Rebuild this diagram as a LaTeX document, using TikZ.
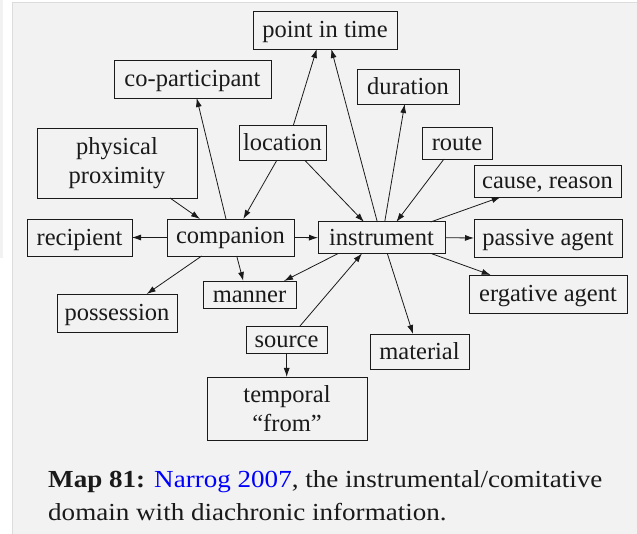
\documentclass[tikz,border=0pt]{standalone}
\usepackage{fontspec}
\setmainfont{Liberation Serif}
\newfontfamily\capfont[FakeStretch=1.105]{Liberation Serif}
\usetikzlibrary{arrows.meta}
\definecolor{panel}{HTML}{F2F2F2}
\definecolor{panelline}{HTML}{DCDCDC}
\definecolor{linkblue}{HTML}{0000FF}
\definecolor{ink}{HTML}{1A1A1A}
\begin{document}
\begin{tikzpicture}[x=1pt,y=-1pt,
  bx/.style={draw=ink, line width=0.9pt, inner sep=0pt, outer sep=0pt,
    text height=18pt, text depth=2pt, text=ink,
    font=\fontsize{24.5}{28.5}\selectfont},
  bxm/.style={draw=ink, line width=0.9pt, inner sep=0pt, outer sep=0pt,
    align=center, text=ink, font=\fontsize{24.5}{28.5}\selectfont},
  lk/.style={draw=ink, line width=0.8pt, -{Latex[length=9pt,width=6pt]}},
  captxt/.style={anchor=base west, inner sep=0pt, text=ink,
    font=\capfont\fontsize{24.5}{33}\selectfont}]
\useasboundingbox (0,0) rectangle (637,534);
\fill[white] (0,0) rectangle (637,534);
\fill[panel] (0,0) rectangle (2.5,258);
\fill[panel] (12,2.5) rectangle (637,534);
\draw[panelline, line width=0.8pt] (12,534) -- (12,2.5) -- (637,2.5);
% nodes
\node[bx, minimum width=144pt, minimum height=38pt] (pit) at (325,30) {point in time};
\node[bx, minimum width=157pt, minimum height=38pt] (cop) at (192.5,79) {co-participant};
\node[bxm, minimum width=160pt, minimum height=70pt] (phys) at (117,163) {physical\\proximity};
\node[bx, minimum width=87pt, minimum height=35pt] (loc) at (282.5,143) {location};
\node[bx, minimum width=105pt, minimum height=37pt] (rec) at (79.5,237.5) {recipient};
\node[bx, text height=17pt, text depth=5pt, minimum width=127pt, minimum height=37pt] (comp) at (230.5,237.5) {companion};
\node[bx, minimum width=127pt, minimum height=31.5pt] (inst) at (381.5,237.7) {instrument};
\node[bx, minimum width=102pt, minimum height=35pt] (dur) at (408,86.5) {duration};
\node[bx, minimum width=70pt, minimum height=32pt] (route) at (457,143) {route};
\node[bx, minimum width=147pt, minimum height=32pt] (cause) at (547.5,181) {cause, reason};
\node[bx, minimum width=148pt, minimum height=38pt] (pass) at (548,238) {passive agent};
\node[bx, minimum width=158pt, minimum height=38pt] (erg) at (548,294) {ergative agent};
\node[bx, minimum width=99pt, minimum height=35pt] (mat) at (419.5,351.5) {material};
\node[bx, minimum width=120pt, minimum height=38pt] (poss) at (117,313) {possession};
\node[bx, minimum width=93pt, minimum height=27pt] (man) at (249.5,294.5) {manner};
\node[bx, minimum width=81pt, minimum height=27pt] (src) at (286.5,339.5) {source};
\node[bxm, minimum width=160pt, minimum height=63pt] (temp) at (287,408.5) {temporal\\“from”};
% connectors
\draw[lk] (comp.west) -- (rec.east);
\draw[lk] (comp.east) -- (inst.west);
\draw[lk] (inst.east) -- (pass.west);
\draw[lk] ([xshift=133pt]phys.south west) -- ([xshift=33pt]comp.north west);
\draw[lk] ([xshift=37.7pt]loc.south west) -- ([xshift=76.3pt]comp.north west);
\draw[lk] ([xshift=59pt]comp.north west) -- ([xshift=82.7pt]cop.south west);
\draw[lk] ([xshift=54.3pt]loc.north west) -- ([xshift=63.7pt]pit.south west);
\draw[lk] ([xshift=59.3pt]inst.north west) -- ([xshift=78.3pt]pit.south west);
\draw[lk] ([xshift=66pt]loc.south west) -- ([xshift=46pt]inst.north west);
\draw[lk] ([xshift=66.7pt]inst.north west) -- ([xshift=47.7pt]dur.south west);
\draw[lk] ([xshift=22pt]route.south west) -- ([xshift=78.3pt]inst.north west);
\draw[lk] ([xshift=112.7pt]inst.north west) -- ([xshift=26.7pt]cause.south west);
\draw[lk] ([xshift=113pt]inst.south west) -- ([xshift=21.7pt]erg.north west);
\draw[lk] ([xshift=69.3pt]inst.south west) -- ([xshift=43pt]mat.north west);
\draw[lk] ([xshift=20.3pt]inst.south west) -- ([xshift=81pt]man.north west);
\draw[lk] ([xshift=54pt]src.north west) -- ([xshift=44pt]inst.south west);
\draw[lk] ([xshift=69.7pt]comp.south west) -- ([xshift=40.3pt]man.north west);
\draw[lk] ([xshift=34.7pt]comp.south west) -- ([xshift=89.7pt]poss.north west);
\draw[lk] ([xshift=40.7pt]src.south west) -- ([xshift=79.7pt]temp.north west);
% caption
\node[captxt] (cap1) at (48,487) {\textbf{Map 81:} \textcolor{linkblue}{Narrog 2007}, the instrumental/comitative};
\node[captxt] (cap2) at (48,520) {domain with diachronic information.};
\end{tikzpicture}
\end{document}
